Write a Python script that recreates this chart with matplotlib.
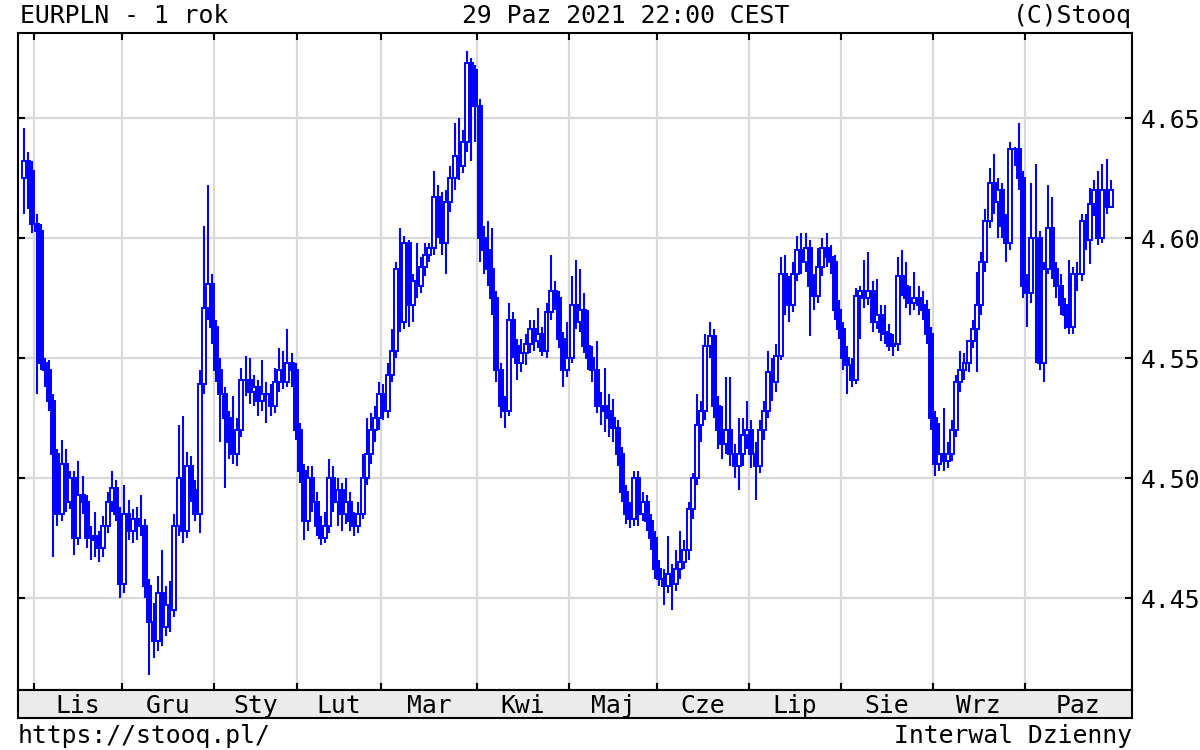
#!/usr/bin/env python3
"""EURPLN daily candles, one year, stooq-style chart."""

import numpy as np
import pandas as pd
import matplotlib

matplotlib.use("Agg")
import matplotlib.pyplot as plt

# =============================================================================
# Data
# =============================================================================

TITLE_LEFT = "EURPLN - 1 rok"
TITLE_MID = "29 Paz 2021 22:00 CEST"
TITLE_RIGHT = "(C)Stooq"
FOOT_LEFT = "https://stooq.pl/"
FOOT_RIGHT = "Interwal Dzienny"

MONTHS_PL = ["Sty", "Lut", "Mar", "Kwi", "Maj", "Cze",
             "Lip", "Sie", "Wrz", "Paz", "Lis", "Gru"]

START = "2020-10-28"
END = "2021-10-29"
HOLIDAYS = ["2020-12-25", "2021-01-01"]

Y_TICKS = [4.45, 4.50, 4.55, 4.60, 4.65]

FIRST_OPEN = 4.625

CLOSE = [
    4.632, 4.628, 4.606, 4.603, 4.548, 4.545, 4.532, 4.510, 4.485, 4.506,
    4.490, 4.500, 4.475, 4.493, 4.490, 4.475, 4.476, 4.474, 4.471, 4.480,
    4.490, 4.496, 4.485, 4.456, 4.485, 4.478, 4.483, 4.480, 4.480, 4.455,
    4.440, 4.432, 4.452, 4.438, 4.447, 4.445, 4.480, 4.500, 4.478, 4.505,
    4.495, 4.485, 4.539, 4.571, 4.581, 4.563, 4.545, 4.535, 4.525, 4.515,
    4.510, 4.520, 4.541, 4.541, 4.536, 4.538, 4.532, 4.535, 4.535, 4.530,
    4.540, 4.545, 4.540, 4.548, 4.545, 4.520, 4.503, 4.482, 4.500, 4.490,
    4.480, 4.475, 4.480, 4.500, 4.490, 4.495, 4.485, 4.490, 4.482, 4.480,
    4.485, 4.500, 4.510, 4.520, 4.525, 4.535, 4.528, 4.543, 4.553, 4.587,
    4.565, 4.598, 4.572, 4.582, 4.580, 4.588, 4.593, 4.596, 4.617, 4.615,
    4.598, 4.615, 4.625, 4.634, 4.630, 4.640, 4.673, 4.670, 4.655, 4.600,
    4.595, 4.587, 4.575, 4.545, 4.530, 4.528, 4.566, 4.555, 4.548, 4.552,
    4.556, 4.562, 4.557, 4.560, 4.553, 4.569, 4.578, 4.575, 4.558, 4.545,
    4.550, 4.572, 4.565, 4.570, 4.555, 4.550, 4.545, 4.530, 4.530, 4.528,
    4.525, 4.521, 4.510, 4.494, 4.485, 4.483, 4.500, 4.485, 4.490, 4.482,
    4.475, 4.462, 4.458, 4.455, 4.460, 4.456, 4.462, 4.465, 4.470, 4.487,
    4.500, 4.522, 4.528, 4.555, 4.559, 4.530, 4.520, 4.514, 4.520, 4.510,
    4.505, 4.510, 4.518, 4.520, 4.510, 4.505, 4.520, 4.528, 4.544, 4.540,
    4.551, 4.585, 4.580, 4.572, 4.585, 4.595, 4.590, 4.596, 4.580, 4.576,
    4.588, 4.596, 4.592, 4.590, 4.570, 4.562, 4.550, 4.547, 4.541, 4.576,
    4.578, 4.575, 4.578, 4.565, 4.568, 4.561, 4.560, 4.555, 4.556, 4.584,
    4.580, 4.575, 4.573, 4.575, 4.572, 4.570, 4.560, 4.525, 4.506, 4.510,
    4.507, 4.510, 4.520, 4.540, 4.545, 4.548, 4.557, 4.562, 4.572, 4.590,
    4.607, 4.623, 4.615, 4.620, 4.605, 4.598, 4.637, 4.637, 4.625, 4.580,
    4.577, 4.600, 4.600, 4.548, 4.587, 4.604, 4.587, 4.580, 4.572, 4.568,
    4.563, 4.585, 4.585, 4.607, 4.599, 4.614, 4.620, 4.600, 4.620, 4.613,
    4.620,
]

HIGH = [
    4.646, 4.636, 4.632, 4.610, 4.606, 4.550, 4.549, 4.535, 4.512, 4.516,
    4.512, 4.503, 4.503, 4.507, 4.501, 4.493, 4.480, 4.486, 4.478, 4.484,
    4.494, 4.503, 4.499, 4.488, 4.497, 4.491, 4.487, 4.488, 4.493, 4.483,
    4.458, 4.448, 4.459, 4.470, 4.455, 4.457, 4.485, 4.522, 4.526, 4.511,
    4.509, 4.499, 4.545, 4.605, 4.622, 4.585, 4.566, 4.550, 4.538, 4.528,
    4.534, 4.525, 4.546, 4.551, 4.550, 4.543, 4.541, 4.549, 4.540, 4.539,
    4.546, 4.554, 4.553, 4.562, 4.552, 4.548, 4.523, 4.506, 4.505, 4.505,
    4.494, 4.484, 4.486, 4.508, 4.505, 4.500, 4.498, 4.500, 4.494, 4.486,
    4.490, 4.510, 4.525, 4.527, 4.530, 4.540, 4.539, 4.548, 4.562, 4.590,
    4.604, 4.601, 4.599, 4.585, 4.598, 4.592, 4.598, 4.598, 4.628, 4.622,
    4.619, 4.620, 4.630, 4.648, 4.650, 4.645, 4.678, 4.675, 4.672, 4.658,
    4.605, 4.607, 4.604, 4.578, 4.548, 4.534, 4.573, 4.569, 4.558, 4.558,
    4.560, 4.566, 4.566, 4.571, 4.563, 4.573, 4.593, 4.582, 4.578, 4.561,
    4.565, 4.584, 4.591, 4.587, 4.577, 4.570, 4.555, 4.557, 4.536, 4.546,
    4.535, 4.533, 4.524, 4.513, 4.497, 4.490, 4.503, 4.503, 4.494, 4.493,
    4.485, 4.478, 4.466, 4.462, 4.476, 4.464, 4.470, 4.478, 4.474, 4.490,
    4.502, 4.535, 4.532, 4.560, 4.565, 4.562, 4.534, 4.530, 4.542, 4.542,
    4.514, 4.525, 4.525, 4.532, 4.524, 4.515, 4.524, 4.532, 4.553, 4.550,
    4.556, 4.592, 4.593, 4.584, 4.590, 4.601, 4.602, 4.602, 4.599, 4.585,
    4.596, 4.600, 4.602, 4.597, 4.593, 4.574, 4.565, 4.555, 4.550, 4.579,
    4.580, 4.591, 4.594, 4.582, 4.583, 4.572, 4.572, 4.564, 4.560, 4.592,
    4.595, 4.590, 4.580, 4.586, 4.580, 4.578, 4.574, 4.563, 4.528, 4.523,
    4.529, 4.515, 4.524, 4.543, 4.553, 4.552, 4.557, 4.566, 4.586, 4.594,
    4.612, 4.629, 4.635, 4.625, 4.623, 4.610, 4.640, 4.638, 4.648, 4.628,
    4.585, 4.623, 4.631, 4.603, 4.590, 4.622, 4.617, 4.590, 4.585, 4.575,
    4.591, 4.588, 4.590, 4.610, 4.610, 4.621, 4.624, 4.628, 4.631, 4.633,
    4.624,
]

LOW = [
    4.610, 4.612, 4.602, 4.535, 4.545, 4.538, 4.528, 4.467, 4.480, 4.482,
    4.486, 4.487, 4.468, 4.472, 4.485, 4.471, 4.466, 4.467, 4.465, 4.467,
    4.477, 4.486, 4.482, 4.450, 4.452, 4.474, 4.473, 4.474, 4.476, 4.450,
    4.418, 4.425, 4.428, 4.430, 4.434, 4.436, 4.442, 4.476, 4.473, 4.475,
    4.490, 4.482, 4.477, 4.535, 4.566, 4.556, 4.540, 4.515, 4.496, 4.508,
    4.506, 4.505, 4.517, 4.534, 4.531, 4.530, 4.526, 4.528, 4.523, 4.526,
    4.527, 4.536, 4.537, 4.538, 4.538, 4.516, 4.498, 4.474, 4.478, 4.486,
    4.476, 4.472, 4.473, 4.477, 4.486, 4.480, 4.478, 4.481, 4.478, 4.476,
    4.477, 4.483, 4.497, 4.506, 4.515, 4.520, 4.524, 4.525, 4.540, 4.550,
    4.561, 4.562, 4.563, 4.565, 4.575, 4.577, 4.584, 4.590, 4.593, 4.600,
    4.593, 4.585, 4.611, 4.620, 4.624, 4.627, 4.636, 4.632, 4.640, 4.590,
    4.585, 4.580, 4.568, 4.540, 4.525, 4.521, 4.526, 4.550, 4.541, 4.544,
    4.547, 4.552, 4.553, 4.554, 4.551, 4.550, 4.566, 4.570, 4.554, 4.538,
    4.542, 4.548, 4.562, 4.561, 4.552, 4.545, 4.540, 4.527, 4.522, 4.519,
    4.517, 4.515, 4.505, 4.490, 4.481, 4.479, 4.480, 4.480, 4.482, 4.478,
    4.470, 4.458, 4.455, 4.447, 4.452, 4.445, 4.453, 4.458, 4.462, 4.466,
    4.483, 4.497, 4.515, 4.524, 4.550, 4.525, 4.512, 4.508, 4.510, 4.505,
    4.500, 4.495, 4.505, 4.512, 4.504, 4.491, 4.502, 4.516, 4.525, 4.532,
    4.536, 4.549, 4.568, 4.565, 4.569, 4.582, 4.585, 4.586, 4.559, 4.570,
    4.573, 4.584, 4.588, 4.585, 4.566, 4.558, 4.545, 4.535, 4.538, 4.539,
    4.558, 4.571, 4.572, 4.561, 4.562, 4.557, 4.556, 4.553, 4.551, 4.553,
    4.576, 4.571, 4.568, 4.570, 4.568, 4.566, 4.556, 4.520, 4.501, 4.503,
    4.503, 4.504, 4.507, 4.517, 4.536, 4.541, 4.544, 4.554, 4.544, 4.568,
    4.586, 4.604, 4.610, 4.600, 4.600, 4.590, 4.595, 4.630, 4.620, 4.575,
    4.563, 4.573, 4.548, 4.545, 4.540, 4.585, 4.583, 4.575, 4.568, 4.562,
    4.560, 4.560, 4.578, 4.582, 4.595, 4.589, 4.609, 4.597, 4.598, 4.610,
    4.613,
]

# =============================================================================
# Layout (pixels of the 1200x750 picture)
# =============================================================================

W, H = 1200, 750
PLOT_L, PLOT_R, PLOT_T, PLOT_B = 18, 1132, 33, 690
BAND_B = 718
BAR_X0, BAR_DX = 24.0, 4.18          # pixel x of first bar, bar spacing
PX_PER_UNIT = 2400.0                   # vertical pixels per 1.00 PLN
BLUE = "#0000ff"
GRID = "#d9d9d9"
FONT = "DejaVu Sans Mono"
FS = 17.8


def main() -> None:
    dates = pd.bdate_range(START, END).drop(pd.to_datetime(HOLIDAYS))
    close = np.asarray(CLOSE, dtype=float)
    high = np.asarray(HIGH, dtype=float)
    low = np.asarray(LOW, dtype=float)
    opn = np.concatenate([[FIRST_OPEN], close[:-1]])
    x = np.arange(len(close), dtype=float)

    # month boundaries
    first_of_month = [i for i in range(1, len(dates))
                      if dates[i].month != dates[i - 1].month]
    bounds = np.array(first_of_month, dtype=float) - 0.6
    month_names = [MONTHS_PL[dates[i].month - 1] for i in first_of_month]

    xlim = ((PLOT_L - BAR_X0) / BAR_DX, (PLOT_R - BAR_X0) / BAR_DX)
    ylim = (4.45 - (PLOT_B - 598) / PX_PER_UNIT,
            4.65 + (118 - PLOT_T) / PX_PER_UNIT)

    plt.rcParams["font.family"] = FONT
    fig = plt.figure(figsize=(W / 100, H / 100), dpi=100)
    fig.patch.set_facecolor("white")

    ax = fig.add_axes([PLOT_L / W, 1 - PLOT_B / H,
                       (PLOT_R - PLOT_L) / W, (PLOT_B - PLOT_T) / H])
    ax.set_xlim(*xlim)
    ax.set_ylim(*ylim)

    # wicks, then bodies: hollow when rising, filled when falling
    ax.vlines(x, low, high, color=BLUE, linewidth=1.5, zorder=3)
    bottom = np.minimum(opn, close)
    height = np.abs(close - opn)
    faces = [BLUE if c < o else "white" for o, c in zip(opn, close)]
    ax.bar(x, height, bottom=bottom, width=0.95, color=faces,
           edgecolor=BLUE, linewidth=1.4, zorder=4)

    ax.set_xticks(bounds)
    ax.set_yticks(Y_TICKS)
    ax.set_yticklabels([f"{v:.2f}" for v in Y_TICKS])
    ax.grid(True, color=GRID, linewidth=1.6, zorder=0)
    ax.set_axisbelow(True)
    ax.tick_params(axis="x", which="both", direction="in", top=True,
                   bottom=True, labelbottom=False, length=5, width=1.5)
    ax.tick_params(axis="y", which="both", direction="in", left=True,
                   right=True, labelleft=False, labelright=True,
                   length=5, width=1.5, pad=6, labelsize=FS)
    for spine in ax.spines.values():
        spine.set_linewidth(1.5)

    # month band below the chart
    band = fig.add_axes([PLOT_L / W, 1 - BAND_B / H,
                         (PLOT_R - PLOT_L) / W, (BAND_B - PLOT_B) / H])
    band.set_facecolor("#ebebeb")
    band.set_xlim(*xlim)
    band.set_ylim(0, 1)
    band.set_xticks([])
    band.set_yticks([])
    for spine in band.spines.values():
        spine.set_linewidth(1.5)
    edges = list(bounds) + [xlim[1]]
    for name, a, b in zip(month_names, edges[:-1], edges[1:]):
        band.text((a + b) / 2, 0.18, name, ha="center", va="baseline",
                  fontsize=FS)

    # header and footer
    fig.text(20 / W, 1 - 23 / H, TITLE_LEFT, ha="left", va="baseline",
             fontsize=FS)
    fig.text(462 / W, 1 - 23 / H, TITLE_MID, ha="left", va="baseline",
             fontsize=FS)
    fig.text(PLOT_R / W, 1 - 23 / H, TITLE_RIGHT, ha="right",
             va="baseline", fontsize=FS)
    fig.text(PLOT_L / W, 1 - 743 / H, FOOT_LEFT, ha="left", va="baseline",
             fontsize=FS)
    fig.text(PLOT_R / W, 1 - 743 / H, FOOT_RIGHT, ha="right",
             va="baseline", fontsize=FS)

    fig.savefig("out.png", dpi=100)
    plt.close(fig)


if __name__ == "__main__":
    main()
